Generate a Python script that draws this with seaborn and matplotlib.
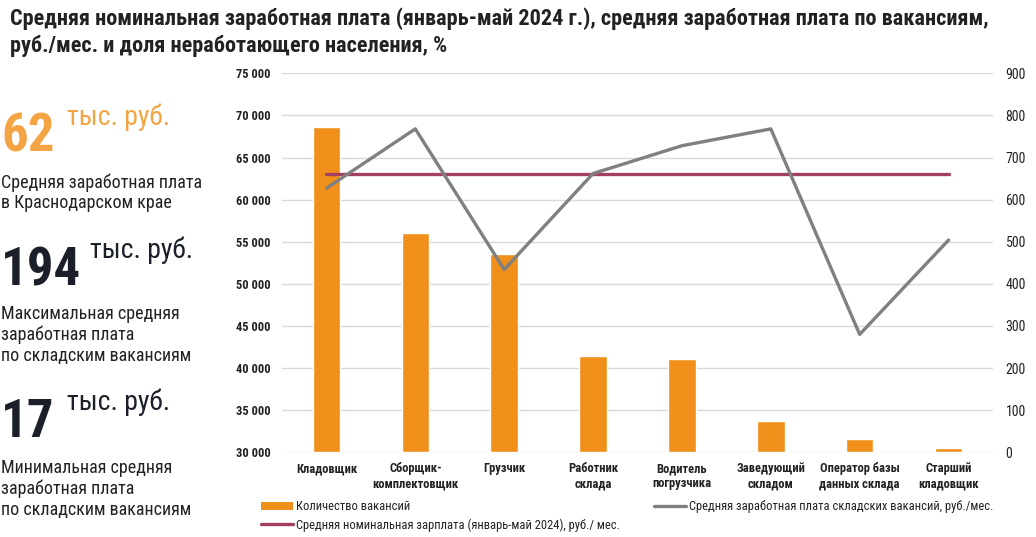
import matplotlib
matplotlib.use("Agg")
import matplotlib.pyplot as plt
import seaborn as sns
import pandas as pd
from matplotlib.ticker import FuncFormatter, MultipleLocator
from matplotlib.patches import Patch
from matplotlib.lines import Line2D
from matplotlib import font_manager

categories = ["Кладовщик", "Сборщик-\nкомплектовщик", "Грузчик", "Работник\nсклада",
              "Водитель\nпогрузчика", "Заведующий\nскладом", "Оператор базы\nданных склада",
              "Старший\nкладовщик"]
vacancies = [772, 520, 472, 229, 221, 74, 31, 10]
avg_salary = [61350, 68400, 51700, 63100, 66400, 68400, 44000, 55200]
regional_salary = [63000] * 8

left_ticks_min, left_ticks_max, left_step = 30000, 75000, 5000
right_ticks_min, right_ticks_max, right_step = 0, 900, 100

sns.set_theme(style="white")
names = {f.name for f in font_manager.fontManager.ttflist}
fam = [f for f in ["Roboto Condensed", "Liberation Sans Narrow", "Roboto", "DejaVu Sans"] if f in names]
plt.rcParams["font.family"] = fam

ORANGE = "#F0901A"
ORANGE_TXT = "#F4A443"
RED = "#A3405F"
GRAY = "#808080"
DARK = "#1B1F29"
TXT = "#222222"

W, H = 1036, 537
fig = plt.figure(figsize=(W / 100, H / 100), dpi=100)
fig.patch.set_facecolor("white")

rect = [282 / W, 1 - 452.3 / H, (993 - 282) / W, (452.3 - 73.3) / H]
ax_bar = fig.add_axes(rect)
ax_line = fig.add_axes(rect)
ax_line.patch.set_visible(False)

df = pd.DataFrame({"cat": categories, "vac": vacancies, "sal": avg_salary, "reg": regional_salary})

sns.barplot(data=df, x="cat", y="vac", ax=ax_bar, color=ORANGE, width=0.31,
            saturation=1, zorder=2)
ax_bar.set_ylim(right_ticks_min, right_ticks_max)
ax_bar.yaxis.set_major_locator(MultipleLocator(right_step))
ax_bar.yaxis.tick_right()
ax_bar.grid(axis="y", color="#D9D9D9", linewidth=1, zorder=0)
ax_bar.set_axisbelow(True)
ax_bar.set_xlim(-0.5, len(categories) - 0.5)
ax_bar.tick_params(axis="y", length=0, labelsize=10, labelcolor=TXT, pad=9)
ax_bar.tick_params(axis="x", length=0, labelsize=9, pad=7)
for lab in ax_bar.get_xticklabels():
    lab.set_fontweight("bold")
    lab.set_color(TXT)
ax_bar.set_xlabel("")
ax_bar.set_ylabel("")
for s in ax_bar.spines.values():
    s.set_visible(False)

sns.lineplot(data=df, x="cat", y="reg", ax=ax_line, color=RED, linewidth=2.4, sort=False)
sns.lineplot(data=df, x="cat", y="sal", ax=ax_line, color=GRAY, linewidth=2.4, sort=False)
ax_line.set_ylim(left_ticks_min, left_ticks_max)
ax_line.yaxis.set_major_locator(MultipleLocator(left_step))
ax_line.yaxis.set_major_formatter(FuncFormatter(lambda v, p: f"{int(v):,}".replace(",", " ")))
ax_line.set_xlim(-0.5, len(categories) - 0.5)
ax_line.set_xticks([])
ax_line.tick_params(axis="y", length=0, labelsize=9, pad=8)
for lab in ax_line.get_yticklabels():
    lab.set_fontweight("bold")
    lab.set_color(TXT)
ax_line.set_xlabel("")
ax_line.set_ylabel("")
for s in ax_line.spines.values():
    s.set_visible(False)

# Legend
h1 = Patch(facecolor=ORANGE, edgecolor="none")
h2 = Line2D([], [], color=GRAY, linewidth=2.4)
h3 = Line2D([], [], color=RED, linewidth=2.4)
common = dict(loc="upper left", frameon=False, fontsize=9, handlelength=2.5,
              handletextpad=0.25, borderpad=0, labelcolor=TXT)
fig.legend([h1], ["Количество вакансий"], bbox_to_anchor=(255 / W, 1 - 494 / H), **common)
fig.legend([h3], ["Средняя номинальная зарплата (январь-май 2024), руб./ мес."],
           bbox_to_anchor=(255 / W, 1 - 512 / H), **common)
fig.legend([h2], ["Средняя заработная плата складских вакансий, руб./мес."],
           bbox_to_anchor=(648 / W, 1 - 494 / H), **common)

# Title
fig.text(10 / W, 1 - 7 / H,
         "Средняя номинальная заработная плата (январь-май 2024 г.), средняя заработная плата по вакансиям,\nруб./мес. и доля неработающего населения, %",
         ha="left", va="top", fontsize=16, fontweight="bold", color=TXT, linespacing=1.3)

# Left panel
def big(y, num, color, num_w):
    fig.text(1 / W, 1 - y / H, num, ha="left", va="baseline", fontsize=38,
             fontweight="bold", color=color)
    fig.text(num_w / W, 1 - (y - 27) / H, "тыс. руб.", ha="left", va="baseline",
             fontsize=20, color=color)

big(152, "62", ORANGE_TXT, 67)
big(285, "194", DARK, 90)
big(437, "17", DARK, 67)

def desc(y, text):
    fig.text(1 / W, 1 - y / H, text, ha="left", va="top", fontsize=13,
             color=TXT, linespacing=1.2)

desc(173, "Средняя заработная плата\nв Краснодарском крае")
desc(305, "Максимальная средняя\nзаработная плата\nпо складским вакансиям")
desc(459, "Минимальная средняя\nзаработная плата\nпо складским вакансиям")

fig.savefig("out.png", dpi=100, facecolor="white")
